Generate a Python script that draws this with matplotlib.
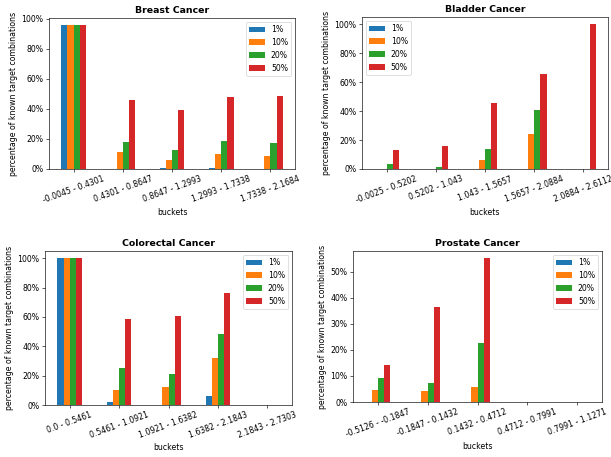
import numpy as np
import matplotlib
matplotlib.use("Agg")
import matplotlib.pyplot as plt
from matplotlib.ticker import PercentFormatter

series = ["1%", "10%", "20%", "50%"]

breast_buckets = ["-0.0045 - 0.4301", "0.4301 - 0.8647", "0.8647 - 1.2993",
                  "1.2993 - 1.7338", "1.7338 - 2.1684"]
breast_vals = [
    [0.956, 0.003, 0.007, 0.007, 0.0],
    [0.956, 0.115, 0.062, 0.097, 0.086],
    [0.956, 0.177, 0.128, 0.183, 0.174],
    [0.956, 0.459, 0.393, 0.479, 0.483],
]

bladder_buckets = ["-0.0025 - 0.5202", "0.5202 - 1.043", "1.043 - 1.5657",
                   "1.5657 - 2.0884", "2.0884 - 2.6112"]
bladder_vals = [
    [0.0, 0.0, 0.0, 0.0, 0.0],
    [0.003, 0.0, 0.06, 0.242, 0.0],
    [0.032, 0.016, 0.139, 0.409, 0.0],
    [0.132, 0.162, 0.455, 0.654, 1.0],
]

colorectal_buckets = ["0.0 - 0.5461", "0.5461 - 1.0921", "1.0921 - 1.6382",
                      "1.6382 - 2.1843", "2.1843 - 2.7303"]
colorectal_vals = [
    [1.0, 0.023, 0.0, 0.064, 0.0],
    [1.0, 0.105, 0.125, 0.323, 0.0],
    [1.0, 0.255, 0.214, 0.481, 0.0],
    [1.0, 0.585, 0.608, 0.765, 0.0],
]

prostate_buckets = ["-0.5126 - -0.1847", "-0.1847 - 0.1432", "0.1432 - 0.4712",
                    "0.4712 - 0.7991", "0.7991 - 1.1271"]
prostate_vals = [
    [0.0, 0.001, 0.0, 0.0, 0.0],
    [0.046, 0.042, 0.056, 0.0, 0.0],
    [0.093, 0.074, 0.226, 0.0, 0.0],
    [0.142, 0.364, 0.552, 0.0, 0.0],
]

colors = ["#1f77b4", "#ff7f0e", "#2ca02c", "#d62728"]

W, H = 611, 457
DPI = 56
fig = plt.figure(figsize=(W / DPI, H / DPI), dpi=DPI)


def box(l, r, t, b):
    return [l / W, (H - b) / H, (r - l) / W, (b - t) / H]


def draw(rect, title, buckets, vals, loc):
    ax = fig.add_axes(rect)
    x = np.arange(len(buckets))
    w = 0.5 / len(series)
    for i, (name, v) in enumerate(zip(series, vals)):
        ax.bar(x + (i - 1.5) * w, v, w, color=colors[i], label=name)
    ax.set_xlim(-0.5, len(buckets) - 0.5)
    ax.set_xticks(x)
    ax.set_xticklabels(buckets, rotation=20)
    ax.yaxis.set_major_formatter(PercentFormatter(1.0, decimals=0))
    ax.set_title(title, fontweight="bold")
    ax.set_xlabel("buckets")
    ax.set_ylabel("percentage of known target combinations")
    ax.legend(loc=loc)
    return ax


draw(box(49, 295, 18, 169), "Breast Cancer", breast_buckets, breast_vals, "upper right")
draw(box(362, 608, 17, 169), "Bladder Cancer", bladder_buckets, bladder_vals, "upper left")
draw(box(45, 292, 251, 405), "Colorectal Cancer", colorectal_buckets, colorectal_vals, "upper right")
draw(box(353, 602, 251, 402), "Prostate Cancer", prostate_buckets, prostate_vals, "upper right")

fig.savefig("out.png", dpi=DPI)
